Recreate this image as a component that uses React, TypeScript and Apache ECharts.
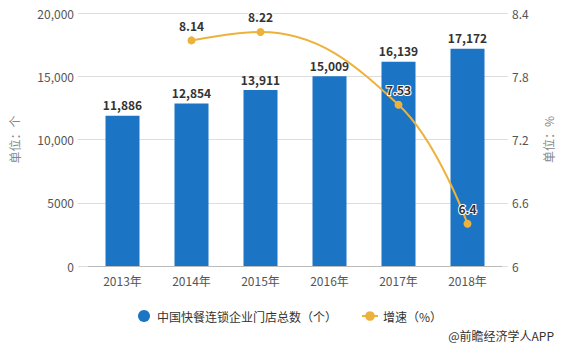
import React, { useEffect, useRef } from "react";
import * as echarts from "echarts";

const categories = ["2013年", "2014年", "2015年", "2016年", "2017年", "2018年"];
const storeCounts = [11886, 12854, 13911, 15009, 16139, 17172];
const growthRates: (number | null)[] = [null, 8.14, 8.22, null, 7.53, 6.4];
const leftTicks = { min: 0, max: 20000, interval: 5000 };
const rightTicks = { min: 6, max: 8.4, interval: 0.6 };

const FONT = "'Noto Sans CJK SC', 'Noto Sans', sans-serif";

export default function App() {
  const ref = useRef<HTMLDivElement>(null);
  useEffect(() => {
    document.body.style.margin = "0";
    if (!ref.current) return;
    const chart = echarts.init(ref.current, undefined, { renderer: "svg" });
    chart.setOption({
      animation: false,
      textStyle: { fontFamily: FONT },
      grid: { left: 85, right: 59, top: 13, bottom: 83 },
      legend: {
        left: 133,
        top: 305,
        itemGap: 24,
        itemWidth: 16,
        itemHeight: 12,
        textStyle: { fontSize: 12, color: "#333", fontFamily: FONT },
        data: [
          { name: "中国快餐连锁企业门店总数（个）", icon: "circle" },
          { name: "增速（%）" },
        ],
      },
      graphic: [
        {
          type: "text",
          right: 8,
          top: 329,
          style: { text: "@前瞻经济学人APP", fill: "#333", fontSize: 12, fontFamily: FONT },
        },
      ],
      xAxis: {
        type: "category",
        data: categories,
        axisLine: { lineStyle: { color: "#bbb" } },
        axisTick: { show: false },
        axisLabel: { color: "#555", fontSize: 12, margin: 8 },
      },
      yAxis: [
        {
          type: "value",
          ...leftTicks,
          name: "单位：个",
          nameLocation: "middle",
          nameGap: 68,
          nameTextStyle: { color: "#888", fontSize: 12 },
          axisLine: { show: false },
          axisTick: { show: true, length: 10, lineStyle: { color: "#ddd" } },
          axisLabel: {
            color: "#555",
            fontSize: 12,
            margin: 14,
            formatter: (v: number) => (v >= 10000 ? v.toLocaleString("en-US") : String(v)),
          },
          splitLine: { lineStyle: { color: "#ddd" } },
        },
        {
          type: "value",
          ...rightTicks,
          name: "单位：%",
          nameLocation: "middle",
          nameGap: 40,
          nameTextStyle: { color: "#888", fontSize: 12 },
          axisLine: { show: false },
          axisTick: { show: true, length: 6, lineStyle: { color: "#ddd" } },
          axisLabel: { color: "#555", fontSize: 12, margin: 10 },
          splitLine: { show: false },
        },
      ],
      series: [
        {
          name: "中国快餐连锁企业门店总数（个）",
          type: "bar",
          data: storeCounts,
          barWidth: 34,
          itemStyle: { color: "#1B75C4" },
          label: {
            show: true,
            position: "top",
            color: "#333",
            fontWeight: "bold",
            fontSize: 12,
            formatter: (p: any) => Number(p.value).toLocaleString("en-US"),
          },
        },
        {
          name: "增速（%）",
          type: "line",
          yAxisIndex: 1,
          data: growthRates,
          connectNulls: true,
          smooth: 0.4,
          symbol: "circle",
          symbolSize: 8,
          lineStyle: { color: "#EDB23C", width: 2 },
          itemStyle: { color: "#EDB23C" },
          label: {
            show: true,
            position: "top",
            color: "#333",
            fontWeight: "bold",
            fontSize: 12,
            textBorderColor: "#fff",
            textBorderWidth: 2,
          },
        },
      ],
    });
    return () => chart.dispose();
  }, []);
  return <div ref={ref} style={{ width: 562, height: 349 }} />;
}
